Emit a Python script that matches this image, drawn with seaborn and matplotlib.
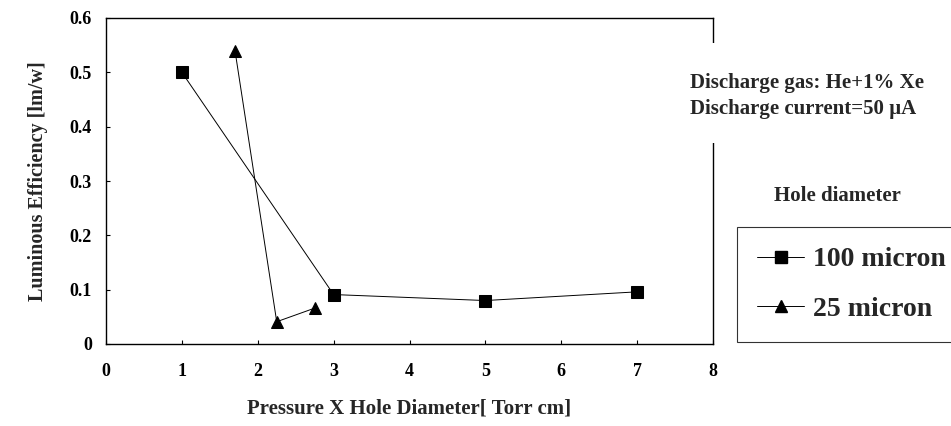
import matplotlib
matplotlib.use("Agg")
import matplotlib.pyplot as plt
import seaborn as sns
import pandas as pd
from matplotlib.patches import Rectangle
from matplotlib.lines import Line2D

# ---- data ----
x_100 = [1, 3, 5, 7]
y_100 = [0.50, 0.091, 0.080, 0.096]
x_25 = [1.7, 2.25, 2.75]
y_25 = [0.54, 0.041, 0.066]
series_names = ["100 micron", "25 micron"]
x_ticks = [0, 1, 2, 3, 4, 5, 6, 7, 8]
y_ticks = [0, 0.1, 0.2, 0.3, 0.4, 0.5, 0.6]
y_ticklabels = ["0", "0.1", "0.2", "0.3", "0.4", "0.5", "0.6"]

df = pd.concat([
    pd.DataFrame({"x": x_100, "y": y_100, "series": series_names[0]}),
    pd.DataFrame({"x": x_25, "y": y_25, "series": series_names[1]}),
], ignore_index=True)

sns.set_theme(style="white")
plt.rcParams["font.family"] = ["Liberation Serif", "DejaVu Serif"]
plt.rcParams["font.weight"] = "bold"

fig = plt.figure(figsize=(9.51, 4.26), dpi=100)
ax = fig.add_axes([106/951, 1-344/426, (713-106)/951, (344-18)/426])

sns.lineplot(data=df, x="x", y="y", hue="series", style="series",
             markers={"100 micron": "s", "25 micron": "^"}, dashes=False,
             palette={"100 micron": "black", "25 micron": "black"},
             sort=False, estimator=None, linewidth=0.7, markersize=9,
             markeredgecolor="black", ax=ax, legend=False)

ax.set_xlim(0, 8)
ax.set_ylim(0, 0.6)
ax.set_xticks(x_ticks)
ax.set_xticklabels([str(t) for t in x_ticks])
ax.set_yticks(y_ticks)
ax.set_yticklabels(y_ticklabels)
ax.tick_params(direction="in", length=3, width=0.8, labelsize=13,
               left=True, bottom=True, colors="black")
ax.tick_params(axis="x", pad=14)
ax.tick_params(axis="y", pad=10)
for lab in ax.get_xticklabels() + ax.get_yticklabels():
    lab.set_fontweight("bold")
for s in ax.spines.values():
    s.set_color("black")
    s.set_linewidth(1.0)

ax.set_xlabel("Pressure X Hole Diameter[ Torr cm]", fontsize=15,
              fontweight="bold", labelpad=13)
ax.set_ylabel("Luminous Efficiency [lm/w]", fontsize=14.5,
              fontweight="bold", labelpad=16)

# white patch interrupting the right spine behind annotation
fig.patches.append(Rectangle((687/951, 1-143/426), (951-687)/951, 100/426,
                             transform=fig.transFigure, facecolor="white",
                             edgecolor="none", zorder=5))
fig.text(690/951, 1-83/426, "Discharge gas: He+1% Xe", fontsize=15,
         fontweight="bold", va="center", ha="left", zorder=6)
fig.text(690/951, 1-109/426, "Discharge current=50 \u00b5A", fontsize=15,
         fontweight="bold", va="center", ha="left", zorder=6)

fig.text(774/951, 1-196/426, "Hole diameter", fontsize=15,
         fontweight="bold", va="center", ha="left")

handles = [
    Line2D([], [], color="black", linewidth=0.7, marker="s", markersize=8),
    Line2D([], [], color="black", linewidth=0.7, marker="^", markersize=8),
]
leg = fig.legend(handles, series_names, loc="upper left",
                 bbox_to_anchor=(737/951, 1-227/426),
                 bbox_transform=fig.transFigure, frameon=True,
                 fancybox=False, handlelength=1.7, handletextpad=0.3,
                 borderpad=0.72, labelspacing=0.85, borderaxespad=0,
                 prop={"family": "Liberation Serif", "weight": "bold", "size": 20})
leg.get_frame().set_edgecolor("black")
leg.get_frame().set_linewidth(0.8)

fig.savefig("out.png", dpi=100)
